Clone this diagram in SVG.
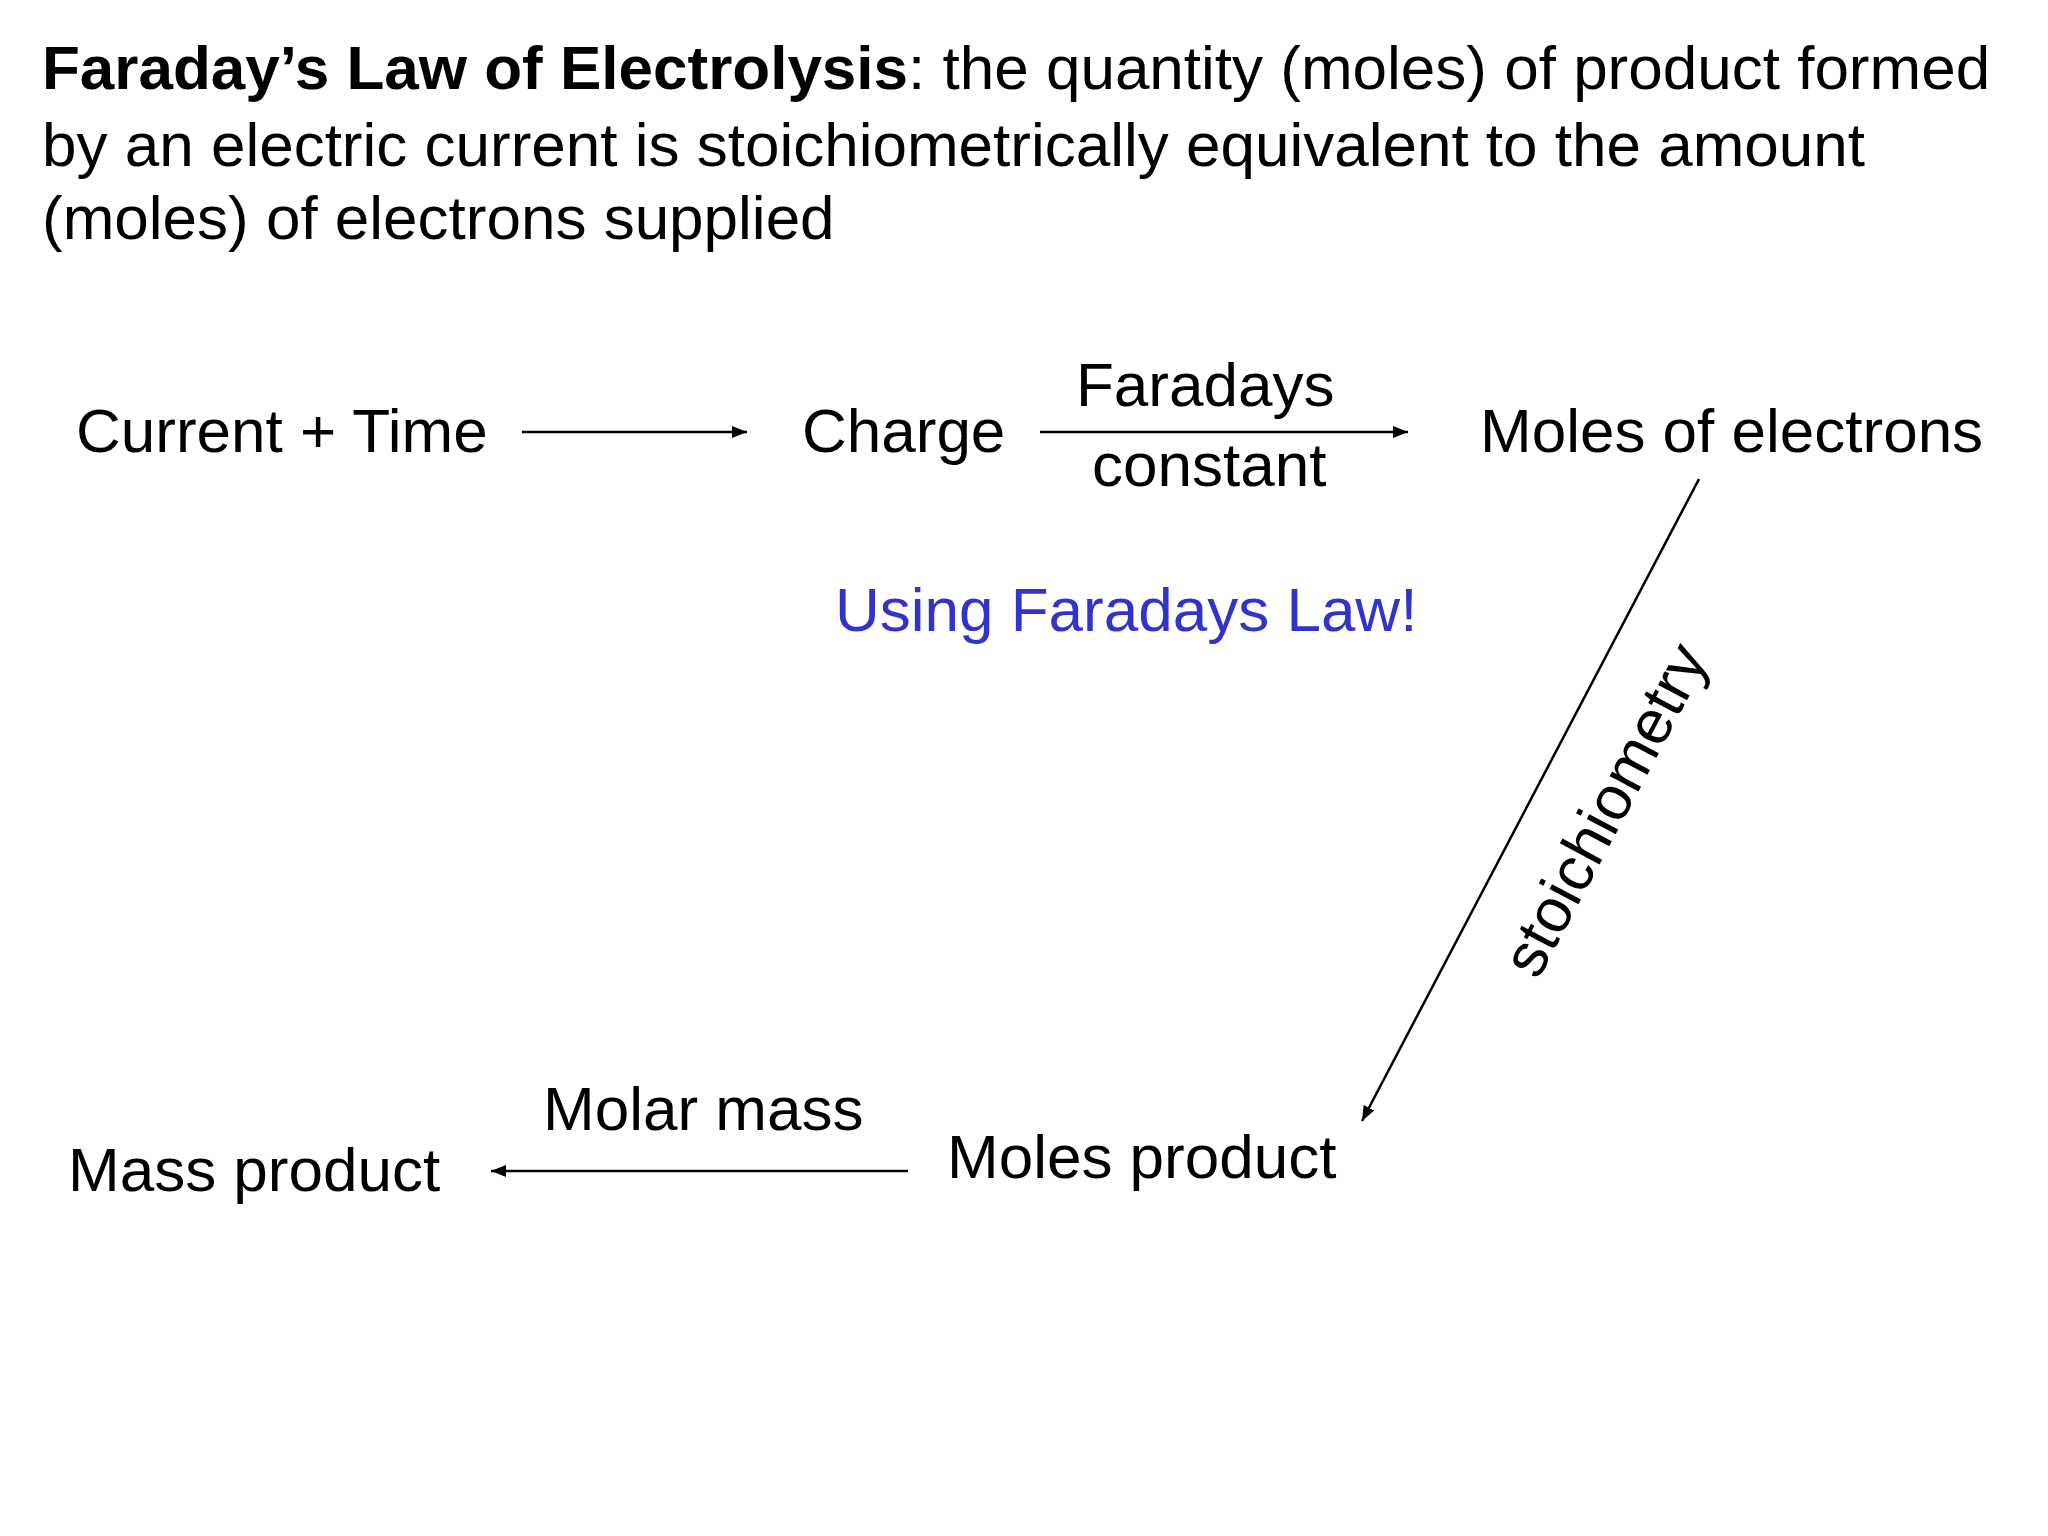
<svg xmlns="http://www.w3.org/2000/svg" width="2048" height="1536" viewBox="0 0 2048 1536">
<defs>
<style>
text{font-family:"Liberation Sans",Arial,sans-serif;font-size:62px;fill:#000}
.c line{stroke:#000;stroke-width:2.5}
</style>
<marker id="ah" viewBox="0 0 10 10" refX="10" refY="5" markerWidth="6" markerHeight="6" orient="auto"><path d="M0,1 L10,5 L0,9 z" fill="#000"/></marker>
</defs>
<rect width="2048" height="1536" fill="#fff"/>
<g id="title">
<text x="42" y="89"><tspan font-weight="bold">Faraday’s Law of Electrolysis</tspan>: the quantity (moles) of product formed</text>
<text x="42" y="166">by an electric current is stoichiometrically equivalent to the amount</text>
<text x="42" y="239">(moles) of electrons supplied</text>
</g>
<g id="current"><text x="76" y="452">Current + Time</text></g>
<g id="charge"><text x="802" y="452">Charge</text></g>
<g id="electrons"><text x="1480" y="452">Moles of electrons</text></g>
<g id="product"><text x="947" y="1178">Moles product</text></g>
<g id="mass"><text x="68" y="1191">Mass product</text></g>
<g id="note"><text x="835" y="631" style="fill:#3333cc">Using Faradays Law!</text></g>
<g class="c" id="connectors">
<line x1="522" y1="432" x2="747" y2="432" marker-end="url(#ah)"/>
<line x1="1040" y1="432" x2="1408" y2="432" marker-end="url(#ah)"/>
<line x1="1699" y1="479" x2="1362" y2="1121" marker-end="url(#ah)"/>
<line x1="908" y1="1171" x2="491" y2="1171" marker-end="url(#ah)"/>
<text x="1076" y="406" style="stroke:none">Faradays</text>
<text x="1092" y="486" style="stroke:none">constant</text>
<text x="543" y="1130" style="stroke:none">Molar mass</text>
<text x="1609" y="812" text-anchor="middle" dominant-baseline="middle" transform="rotate(-62 1609 812)" style="stroke:none">stoichiometry</text>
</g>
</svg>
